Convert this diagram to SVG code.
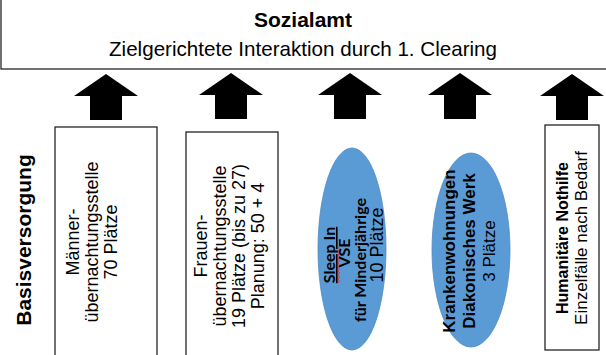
<svg xmlns="http://www.w3.org/2000/svg" width="606" height="355" viewBox="0 0 606 355">
<defs>
<style>
.box{fill:#ffffff;stroke:#262626;stroke-width:1.3}
.ell{fill:#5b9bd5;stroke:#4f8cc4;stroke-width:0.8}
.t{font-family:"Liberation Sans",Arial,sans-serif;fill:#000}
.r{font-size:18px;text-anchor:middle}
.b{font-weight:bold}
.c{font-family:Lato,"Liberation Sans",sans-serif;font-weight:bold;font-size:16px;text-anchor:middle;fill:#000}
</style>
<path id="arrow" d="M0,0 L32,22 L16,22 L16,46 L-16,46 L-16,22 L-32,22 Z" fill="#000"/>
</defs>
<rect width="606" height="355" fill="#fff"/>
<g id="sozialamt">
<rect class="box" x="1" y="-5" width="612" height="74" stroke-width="1.5"/>
<text class="t b" x="303" y="27" font-size="21" text-anchor="middle">Sozialamt</text>
<text class="t" x="303" y="56" font-size="21" text-anchor="middle" textLength="388" lengthAdjust="spacingAndGlyphs">Zielgerichtete Interaktion durch 1. Clearing</text>
</g>
<g id="connectors">
<use href="#arrow" x="106" y="74"/>
<use href="#arrow" x="231" y="73"/>
<use href="#arrow" x="350" y="73"/>
<use href="#arrow" x="460" y="73"/>
<use href="#arrow" x="572" y="74"/>
</g>
<g id="basisversorgung">
<text class="t b" font-size="21" text-anchor="middle" transform="translate(31,240) rotate(-90)">Basisversorgung</text>
</g>
<g id="maenner">
<rect class="box" x="55" y="127" width="102" height="240"/>
<g transform="translate(0,242)">
<text class="t r" transform="translate(79,0) rotate(-90)">Männer-</text>
<text class="t r" transform="translate(98,0) rotate(-90)">übernachtungsstelle</text>
<text class="t r" transform="translate(117,0) rotate(-90)">70 Plätze</text>
</g>
</g>
<g id="frauen">
<rect class="box" x="186" y="132" width="92" height="240"/>
<g transform="translate(0,246)">
<text class="t r" transform="translate(207,0) rotate(-90)">Frauen-</text>
<text class="t r" transform="translate(226,0) rotate(-90)">übernachtungsstelle</text>
<text class="t r" transform="translate(245,0) rotate(-90)">19 Plätze (bis zu 27)</text>
<text class="t r" transform="translate(264,0) rotate(-90)">Planung: 50 + 4</text>
</g>
</g>
<g id="sleepin">
<ellipse class="ell" cx="352" cy="249" rx="34" ry="101"/>
<text class="c" text-decoration="underline" transform="translate(335,255) rotate(-90)">Sleep In</text>
<path d="M338,283 l1.5,-2 l-1.5,-2 l1.5,-2 l-1.5,-2 l1.5,-2 l-1.5,-2 l1.5,-2 l-1.5,-2 l1.5,-2 l-1.5,-2 l1.5,-2 l-1.5,-2 l1.5,-2 l-1.5,-2 l1.5,-2 l-1.5,-2 l1.5,-2 l-1.5,-2" fill="none" stroke="#e03030" stroke-width="0.9"/>
<text class="c" transform="translate(350,253) rotate(-90)">VSE</text>
<text class="c" transform="translate(366,260) rotate(-90)">für Minderjährige</text>
<text class="t r" font-size="16" transform="translate(383,245) rotate(-90)">10 Plätze</text>
</g>
<g id="krankenwohnungen">
<ellipse class="ell" cx="471" cy="250" rx="39" ry="97"/>
<g transform="translate(0,251)">
<text class="t b" font-size="17" text-anchor="middle" transform="translate(455,0) rotate(-90)">Krankenwohnungen</text>
<text class="t b" font-size="17" text-anchor="middle" transform="translate(475,0) rotate(-90)">Diakonisches Werk</text>
<text class="t" font-size="17" text-anchor="middle" transform="translate(495,0) rotate(-90)">3 Plätze</text>
</g>
</g>
<g id="humanitaer">
<rect class="box" x="545" y="125" width="54" height="225"/>
<g transform="translate(0,238)">
<text class="t b" font-size="16" text-anchor="middle" transform="translate(568,0) rotate(-90)">Humanitäre Nothilfe</text>
<text class="t" font-size="17" text-anchor="middle" transform="translate(587,0) rotate(-90)">Einzelfälle nach Bedarf</text>
</g>
</g>
</svg>
